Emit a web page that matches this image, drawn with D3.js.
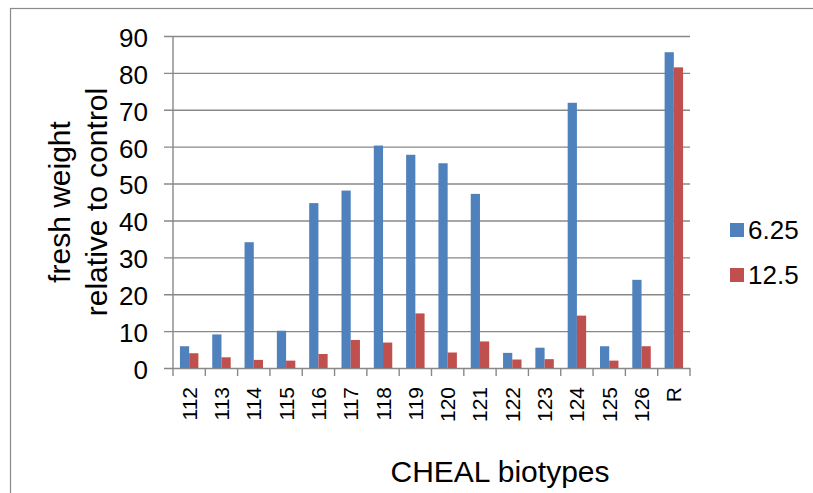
<!DOCTYPE html>
<html>
<head>
<meta charset="utf-8">
<script src="https://cdn.jsdelivr.net/npm/d3@7"></script>
<style>
  body { margin: 0; background: #fff; }
  text { font-family: "Liberation Sans", Arial, sans-serif; fill: #000; }
</style>
</head>
<body>
<div id="chart"></div>
<script>

// chart data
var categories = ["112", "113", "114", "115", "116", "117", "118", "119",
                  "120", "121", "122", "123", "124", "125", "126", "R"];
var seriesNames = ["6.25", "12.5"];
var values625 = [5.9, 9.1, 34.1, 10.1, 44.7, 48.1, 60.3, 57.8,
                 55.5, 47.2, 4.1, 5.5, 71.9, 5.9, 23.9, 85.6];
var values125 = [4.0, 2.9, 2.2, 2.0, 3.8, 7.6, 6.9, 14.8,
                 4.2, 7.2, 2.3, 2.4, 14.2, 2.0, 5.9, 81.5];
var yTicks = [0, 10, 20, 30, 40, 50, 60, 70, 80, 90];

var colors = ["#4F81BD", "#C0504D"];
var gridColor = "#888888";

var svgWidth = 813;
var svgHeight = 493;

var plot = { left: 173, right: 690, top: 36, bottom: 368 };

var svg = d3.select("#chart")
  .append("svg")
  .attr("width", svgWidth)
  .attr("height", svgHeight);

// outer chart border (only left and top visible)
svg.append("rect")
  .attr("x", 10.5)
  .attr("y", 8.5)
  .attr("width", 820)
  .attr("height", 500)
  .attr("fill", "none")
  .attr("stroke", "#8a8a8a")
  .attr("stroke-width", 1.2);

// build rows from the arrays
var rows = categories.map(function(c, i) {
  return { cat: c, vals: [values625[i], values125[i]] };
});

// scales
var x0 = d3.scaleBand()
  .domain(categories)
  .range([plot.left, plot.right])
  .paddingInner(0)
  .paddingOuter(0);

var x1 = d3.scaleBand()
  .domain(seriesNames)
  .range([0, x0.bandwidth()])
  .paddingInner(0)
  .paddingOuter(0.75);

var yScale = d3.scaleLinear()
  .domain([0, 90])
  .range([plot.bottom, plot.top]);

// gridlines + y axis (ticks stick out to the left)
var yAxis = d3.axisLeft(yScale)
  .tickValues(yTicks)
  .tickSize(-(plot.right - plot.left) - 9)
  .tickPadding(16)
  .tickFormat(d3.format("d"));

var yAxisG = svg.append("g")
  .attr("transform", `translate(${plot.left - 9}, 0)`)
  .call(yAxis);

yAxisG.select(".domain").remove();
yAxisG.selectAll(".tick line")
  .attr("stroke", gridColor)
  .attr("stroke-width", 1.4);
yAxisG.selectAll(".tick text")
  .attr("x", -(173 - 148) + 9)
  .attr("dy", "0.4em")
  .style("font-size", "26px")
  .style("font-family", "'Liberation Sans', Arial, sans-serif")
  .attr("fill", "#000");

// vertical axis line
svg.append("line")
  .attr("x1", plot.left)
  .attr("x2", plot.left)
  .attr("y1", yScale(90))
  .attr("y2", yScale(0))
  .attr("stroke", gridColor)
  .attr("stroke-width", 1.4);

// x axis ticks at category boundaries
var boundaries = categories.map(function(c) { return x0(c); }).concat([plot.right]);
svg.selectAll(".xtick")
  .data(boundaries)
  .enter()
  .append("line")
  .attr("class", "xtick")
  .attr("x1", d => d)
  .attr("x2", d => d)
  .attr("y1", plot.bottom)
  .attr("y2", plot.bottom + 8)
  .attr("stroke", gridColor)
  .attr("stroke-width", 1.4);

// bars
var groups = svg.selectAll(".group")
  .data(rows)
  .enter()
  .append("g")
  .attr("class", "group")
  .attr("transform", d => `translate(${x0(d.cat)}, 0)`);

groups.selectAll("rect")
  .data(function(d) {
    return d.vals.map(function(v, i) { return { name: seriesNames[i], value: v, idx: i }; });
  })
  .enter()
  .append("rect")
  .attr("x", d => x1(d.name))
  .attr("width", x1.bandwidth())
  .attr("y", d => yScale(d.value))
  .attr("height", d => yScale(0) - yScale(d.value))
  .attr("fill", d => colors[d.idx]);

// x tick labels, rotated
svg.selectAll(".xlabel")
  .data(categories)
  .enter()
  .append("text")
  .attr("class", "xlabel")
  .attr("transform", d => `translate(${x0(d) + x0.bandwidth() / 2 + 7.5}, 387) rotate(-90)`)
  .style("text-anchor", "end")
  .style("font-size", "21px")
  .text(d => d);

// x axis title
svg.append("text")
  .attr("x", 500)
  .attr("y", 482)
  .style("text-anchor", "middle")
  .style("font-size", "30px")
  .text("CHEAL biotypes");

// y axis title (two lines)
var yMid = (plot.top + plot.bottom) / 2;
svg.append("text")
  .attr("transform", `translate(70, ${yMid}) rotate(-90)`)
  .style("text-anchor", "middle")
  .style("font-size", "30px")
  .text("fresh weight");
svg.append("text")
  .attr("transform", `translate(107, ${yMid}) rotate(-90)`)
  .style("text-anchor", "middle")
  .style("font-size", "30px")
  .text("relative to control");

// legend
var legend = svg.selectAll(".legend")
  .data(seriesNames)
  .enter()
  .append("g")
  .attr("class", "legend")
  .attr("transform", (d, i) => `translate(730, ${223 + i * 45})`);

legend.append("rect")
  .attr("width", 14)
  .attr("height", 14)
  .attr("fill", (d, i) => colors[i]);

legend.append("text")
  .attr("x", 18)
  .attr("y", 15.5)
  .style("font-size", "26px")
  .text(d => d);

</script>
</body>
</html>
